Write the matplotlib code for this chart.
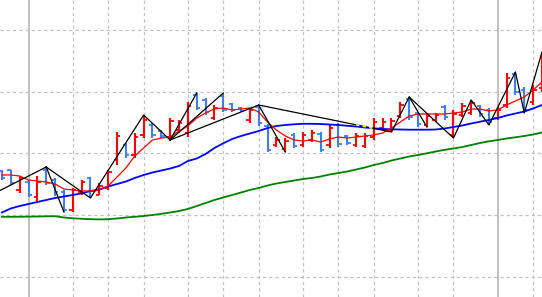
import numpy as np
import matplotlib
matplotlib.use("Agg")
import matplotlib.pyplot as plt

# OHLC bars (price levels)
opens = [126, 127, 107, 115, 100, 127, 117, 105, 87, 105, 119, 102, 109, 137, 152, 142,
         162, 172, 166, 160, 167, 164, 202, 197, 179, 201, 193, 189, 177, 190, 171, 152,
         148, 162, 152, 157, 163, 152, 172, 161, 152, 151, 160, 169, 167, 181, 198, 184,
         172, 177, 190, 162, 182, 184, 191, 187, 179, 192, 223, 207, 195, 209]
highs = [127, 127, 121, 117, 121, 130, 119, 107, 109, 117, 120, 114, 127, 165, 154, 164,
         182, 174, 167, 179, 177, 195, 204, 199, 192, 204, 194, 190, 189, 192, 173, 160,
         159, 164, 165, 167, 165, 172, 174, 162, 164, 164, 179, 179, 179, 195, 200, 185,
         184, 184, 192, 187, 194, 197, 192, 189, 190, 224, 225, 210, 212, 245]
lows = [117, 112, 104, 100, 94, 112, 101, 85, 85, 102, 99, 102, 107, 132, 139, 139,
        159, 159, 159, 157, 164, 160, 187, 182, 177, 185, 185, 185, 174, 171, 145, 150,
        145, 149, 150, 155, 145, 149, 150, 152, 150, 149, 157, 167, 165, 179, 177, 170,
        170, 175, 177, 159, 180, 182, 180, 172, 177, 189, 202, 184, 192, 205]
closes = [119, 114, 119, 102, 115, 114, 105, 87, 107, 115, 106, 111, 125, 161, 142, 160,
          177, 162, 161, 176, 174, 191, 189, 185, 189, 187, 187, 186, 187, 174, 147, 157,
          156, 151, 162, 164, 147, 169, 153, 154, 161, 161, 175, 175, 176, 192, 180, 173,
          181, 182, 180, 183, 191, 194, 183, 175, 187, 219, 205, 187, 207, 241]

# moving averages
ma_fast = [122, 122, 121, 117, 116, 115, 113, 108, 107, 106, 106, 107, 111, 120, 129, 141,
           149, 157, 159, 160, 166, 171, 179, 184, 188, 189, 187, 188, 189, 185, 175, 167,
           161, 157, 156, 157, 155, 158, 160, 159, 160, 161, 162, 164, 169, 175, 181, 183,
           183, 183, 183, 184, 185, 188, 188, 186, 187, 192, 196, 200, 207, 215]
ma_mid = [84.5, 88.5, 91, 93, 95, 97, 99, 100.5, 102, 103.7, 106, 107.5, 110.5, 113, 115.5,
          119, 122, 124.5, 126.5, 128.5, 131, 136, 138.5, 143, 149, 153.7, 158, 161, 163.5,
          166, 169, 171, 172, 172.7, 173.2, 173.2, 173, 172.5, 172, 171.2, 170.5, 169.5,
          168.7, 168, 167.7, 167.5, 167.3, 167.3, 167.3, 167.5, 168.5, 170, 171.5, 173.5,
          175.3, 177, 179, 181.5, 183.5, 185.5, 188.5, 192]
ma_slow = [80.2, 80.2, 80.3, 80.4, 80.5, 80.7, 80.8, 79.5, 78.7, 78.2, 77.8, 77.6, 77.8,
           78.5, 79.5, 80.2, 81, 82, 83.2, 84.5, 86, 88, 91, 94, 97, 99.5, 102, 104.5, 107,
           109, 111.5, 113.5, 115, 116.5, 118, 119, 120.5, 122.5, 124, 125.5, 127.5, 129.5,
           132, 134, 136.5, 138.5, 140.5, 142, 143.7, 145.5, 147.2, 148.5, 150, 152, 154,
           155.7, 157, 158.5, 159.7, 161, 162.5, 164.5]

# zigzag legs: (bar index, price) pivots
zz_legs = [
    [(-1, 103), (5, 130)],
    [(5, 130), (7, 85)],
    [(5, 130), (10, 99), (16, 182), (19, 157)],
    [(19, 157), (22, 204)],
    [(19, 157), (25, 204)],
    [(19, 157), (29, 192), (32, 145)],
    [(29, 192), (44, 165), (46, 200), (48, 170)],
    [(46, 200), (51, 159), (53, 197), (55, 172), (58, 225), (59, 184), (61, 245)],
]

grid_levels = [20, 81.8, 143.7, 205.5, 267.5]
grid_bars_dashed = [8, 12, 16, 21, 25, 29, 34, 38, 42, 47, 51, 60]
grid_bars_solid = [3, 56]

fig = plt.figure(figsize=(5.42, 2.97), dpi=100)
ax = fig.add_axes([0, 0, 1, 1])
ax.set_xlim(-0.22, 61.0)
ax.set_ylim(0, 297)
ax.axis("off")

for lv in grid_levels:
    ax.axhline(lv, color="#c0c0c0", lw=0.9, ls=(0, (2.5, 2.5)), zorder=0)
for b in grid_bars_dashed:
    ax.axvline(b, color="#c0c0c0", lw=0.9, ls=(0, (2.5, 2.5)), zorder=0)
for b in grid_bars_solid:
    ax.axvline(b, color="#c0c0c0", lw=1.4, zorder=0)

idx = np.arange(len(opens))
o = np.array(opens); h = np.array(highs); l = np.array(lows); c = np.array(closes)
cols = np.where(c >= o, "#ff0000", "#3d7ef0")
tick = 0.38
ax.vlines(idx, l, h, colors=cols, lw=1.5, zorder=2)
ax.hlines(o, idx - tick, idx, colors=cols, lw=1.3, zorder=2)
ax.hlines(c, idx, idx + tick, colors=cols, lw=1.3, zorder=2)

ax.plot(idx, ma_slow, color="#008000", lw=1.3, zorder=3)
ax.plot(idx, ma_mid, color="#0000ff", lw=1.3, zorder=3)
ax.plot(idx, ma_fast, color="#ff0000", lw=0.9, zorder=3)

for leg in zz_legs:
    xs, ys = zip(*leg)
    ax.plot(xs, ys, color="black", lw=0.9, zorder=4)

# yellow dashes on the long zigzag leg
leg = zz_legs[6]
seg_x = np.linspace(40, 42, 5)
seg_y = np.interp(seg_x, [leg[0][0], leg[1][0]], [leg[0][1], leg[1][1]])
ax.plot(seg_x, seg_y, color="#ffff00", lw=1.2, ls=(0, (2, 2)), zorder=5)

fig.savefig("out.png", dpi=100)
